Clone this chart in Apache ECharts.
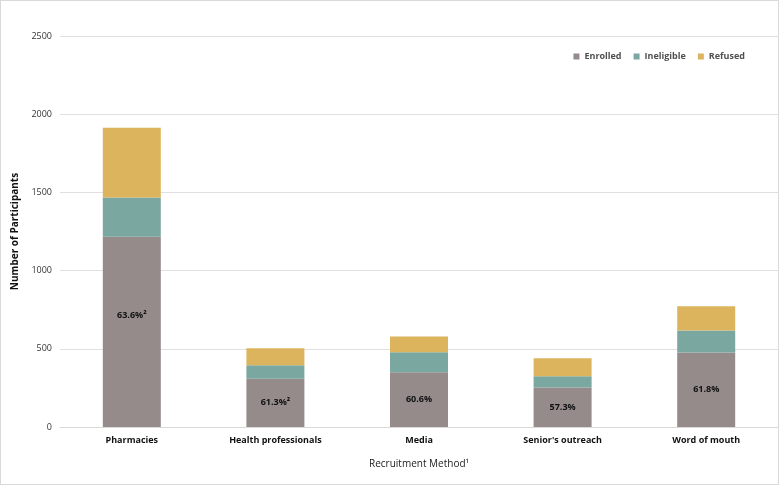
<!DOCTYPE html>
<html>
<head>
<meta charset="utf-8">
<script src="https://cdn.jsdelivr.net/npm/echarts@6/dist/echarts.min.js"></script>
<style>
html,body{margin:0;padding:0;background:#fff;}
#c{width:779px;height:485px;box-sizing:border-box;border:1px solid #d9d9d9;}
</style>
</head>
<body>
<div id="c"></div>
<script>
const categories = ['Pharmacies', 'Health professionals', 'Media', "Senior's outreach", 'Word of mouth'];
const enrolled = [1217, 309, 350, 252, 477];
const ineligible = [250, 86, 128, 73, 140];
const refused = [446, 109, 100, 115, 155];
const pctLabels = ['63.6%²', '61.3%²', '60.6%', '57.3%', '61.8%'];
const yTicks = [0, 500, 1000, 1500, 2000, 2500];

const font = 'Open Sans, Liberation Sans, sans-serif';
const chart = echarts.init(document.getElementById('c'), null, {renderer: 'canvas'});
chart.setOption({
  animation: false,
  textStyle: {fontFamily: font},
  grid: {left: 59, right: 0, top: 35, bottom: 57},
  legend: {
    right: 28, top: 46,
    itemWidth: 6, itemHeight: 6, itemGap: 12,
    icon: 'rect',
    textStyle: {fontSize: 9, fontWeight: 'bold', color: '#505050', fontFamily: font},
    data: ['Enrolled', 'Ineligible', 'Refused']
  },
  xAxis: {
    type: 'category',
    data: categories,
    name: 'Recruitment Method¹',
    nameLocation: 'middle',
    nameGap: 32,
    nameTextStyle: {fontSize: 10, color: '#222', fontFamily: font},
    axisTick: {show: false},
    axisLine: {lineStyle: {color: '#d9d9d9'}},
    axisLabel: {fontSize: 9, fontWeight: 'bold', color: '#111', margin: 9}
  },
  yAxis: {
    type: 'value',
    min: yTicks[0], max: yTicks[yTicks.length - 1], interval: 500,
    name: 'Number of Participants',
    nameLocation: 'middle',
    nameGap: 36,
    nameTextStyle: {fontSize: 10, fontWeight: 'bold', color: '#111', fontFamily: font},
    axisLabel: {fontSize: 9, color: '#333', margin: 8, formatter: v => String(v)},
    axisLine: {show: false},
    axisTick: {show: false},
    splitLine: {lineStyle: {color: '#e0e0e0'}}
  },
  series: [
    {
      name: 'Enrolled', type: 'bar', stack: 'a', barWidth: 58,
      itemStyle: {color: '#958b8b'},
      data: enrolled.map((v, i) => i === 0 ? {value: v, label: {offset: [0, -16]}} : v),
      label: {
        show: true, position: 'inside',
        fontSize: 9, fontWeight: 'bold', color: '#111',
        formatter: p => pctLabels[p.dataIndex]
      }
    },
    {
      name: 'Ineligible', type: 'bar', stack: 'a', barWidth: 58,
      itemStyle: {color: '#7aa79f'},
      data: ineligible
    },
    {
      name: 'Refused', type: 'bar', stack: 'a', barWidth: 58,
      itemStyle: {color: '#dcb45e'},
      data: refused
    }
  ]
});
</script>
</body>
</html>
